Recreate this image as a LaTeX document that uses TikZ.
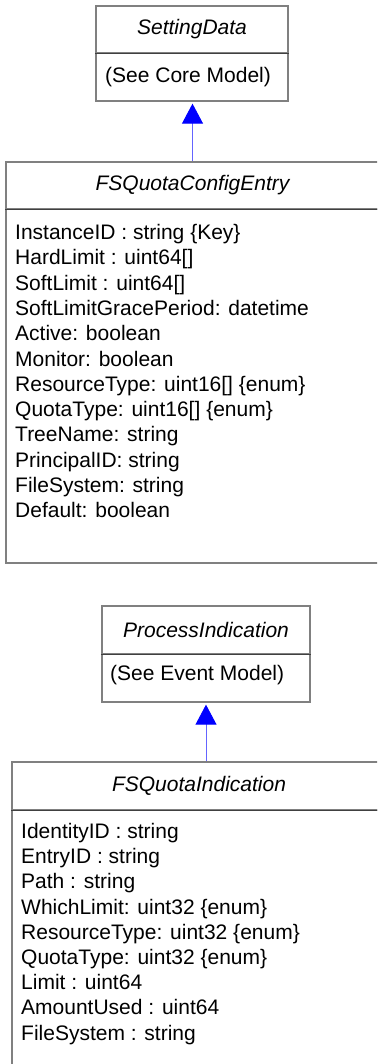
\documentclass[tikz,border=0pt]{standalone}
\usepackage{fontspec}
\setmainfont{Liberation Sans}
\usetikzlibrary{arrows.meta}
\definecolor{boxgray}{RGB}{128,128,128}
\definecolor{rulegray}{RGB}{64,64,64}
\definecolor{linkblue}{RGB}{100,100,255}

\begin{document}
\begin{tikzpicture}[x=1pt, y=-1pt,
    every node/.style={font=\fontsize{21}{25}\selectfont},
    classhead/.style={draw=boxgray, line width=1.3pt, inner sep=0pt,
      font=\fontsize{21}{25}\selectfont\itshape},
    classbody/.style={draw=boxgray, line width=1.3pt, inner sep=0pt},
    attr/.style={anchor=base west, inner sep=0pt},
    divider/.style={draw=rulegray, line width=1.5pt},
    inherit/.style={draw=linkblue, line width=0.9pt,
      -{Triangle[length=20pt, width=21pt, color=blue]}, shorten >=2pt}]
  \useasboundingbox (0,0) rectangle (377,1064);
  \clip (0,0) rectangle (377,1064);

  % SettingData
  \node[classhead, minimum width=192pt, minimum height=47pt] (sdh) at (192,29.5) {SettingData};
  \node[classbody, minimum width=192pt, minimum height=48pt] (sdb) at (192,77) {};
  \node[attr] (sdnote) at (105,82.5) {(See Core Model)};
  \draw[divider] (sdh.south west) -- (sdh.south east);

  % FSQuotaConfigEntry
  \node[classhead, minimum width=373pt, minimum height=47pt] (ceh) at (192.5,185.5) {FSQuotaConfigEntry};
  \node[classbody, minimum width=373pt, minimum height=354pt] (ceb) at (192.5,386) {};
  \draw[divider] (ceh.south west) -- (ceh.south east);
  \foreach \a [count=\i] in {InstanceID : string \{Key\}, HardLimit : uint64[],
      SoftLimit : uint64[], SoftLimitGracePeriod: datetime, Active: boolean,
      Monitor: boolean, ResourceType: uint16[] \{enum\}, QuotaType: uint16[] \{enum\},
      TreeName: string, PrincipalID: string, FileSystem: string, Default: boolean}
    \node[attr] (cea\i) at (15,214.2+25.3*\i) {\a};

  \draw[inherit] (ceh.north) -- (ceh.north |- sdb.south);

  % ProcessIndication
  \node[classhead, minimum width=208pt, minimum height=48pt] (pih) at (206,630) {ProcessIndication};
  \node[classbody, minimum width=208pt, minimum height=48pt] (pib) at (206,678) {};
  \node[attr] (pinote) at (110,680.5) {(See Event Model)};
  \draw[divider] (pih.south west) -- (pih.south east);

  % FSQuotaIndication
  \node[classhead, minimum width=374pt, minimum height=48pt] (qih) at (199,786) {FSQuotaIndication};
  \node[classbody, minimum width=374pt, minimum height=290pt] (qib) at (199,955) {};
  \draw[divider] (qih.south west) -- (qih.south east);
  \foreach \a [count=\i] in {IdentityID : string, EntryID : string, Path : string,
      WhichLimit: uint32 \{enum\}, ResourceType: uint32 \{enum\},
      QuotaType: uint32 \{enum\}, Limit : uint64, AmountUsed : uint64,
      FileSystem : string}
    \node[attr] (qia\i) at (21,813.3+25.2*\i) {\a};

  \draw[inherit] (pib.south |- qih.north) -- (pib.south);
\end{tikzpicture}
\end{document}
